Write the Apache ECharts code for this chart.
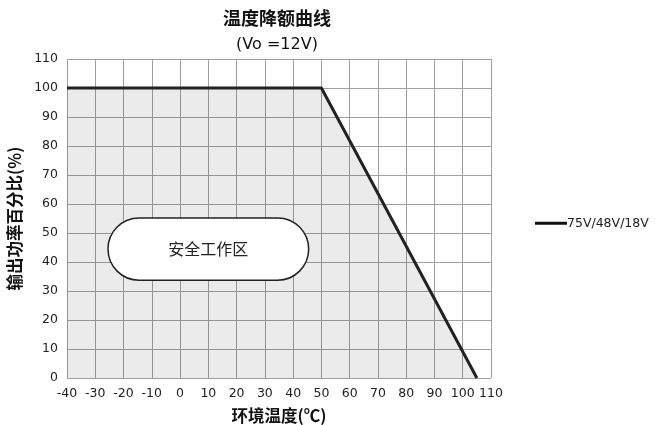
<!DOCTYPE html>
<html>
<head>
<meta charset="utf-8">
<script src="https://cdn.jsdelivr.net/npm/echarts@6/dist/echarts.min.js"></script>
<style>
  html, body { margin: 0; padding: 0; background: #fff; }
  #chart { width: 656px; height: 425px; }
</style>
</head>
<body>
<div id="chart"></div>
<script>
// Derating curve: output power percentage vs ambient temperature
const temperatures = [-40, 50, 105];
const powerPercent = [100, 100, 0];
const xTicks = [-40, -30, -20, -10, 0, 10, 20, 30, 40, 50, 60, 70, 80, 90, 100, 110];
const yTicks = [0, 10, 20, 30, 40, 50, 60, 70, 80, 90, 100, 110];
const seriesName = '75V/48V/18V';
const zoneLabel = '安全工作区';
// Safe operating zone label box, in data units (temperature, percent)
const zoneBox = { x0: -25.5, x1: 45.5, y0: 33.7, y1: 55.2 };

const FONT = '"Noto Sans CJK SC", "DejaVu Sans", sans-serif';
const NUMFONT = '"DejaVu Sans", "Noto Sans CJK SC", sans-serif';

const chart = echarts.init(document.getElementById('chart'), null, { renderer: 'canvas' });

const option = {
  backgroundColor: '#fff',
  animation: false,
  title: {
    text: '温度降额曲线',
    subtext: '(Vo =12V)',
    left: 272,
    textAlign: 'center',
    top: 4,
    itemGap: 10,
    textStyle: { fontFamily: FONT, fontSize: 18, fontWeight: 'bold', color: '#111' },
    subtextStyle: { fontFamily: NUMFONT, fontSize: 16, color: '#111' }
  },
  legend: {
    left: 530,
    top: 212,
    itemWidth: 32,
    itemHeight: 3,
    itemGap: 0,
    icon: 'rect',
    textStyle: { fontFamily: NUMFONT, fontSize: 12.5, color: '#222', padding: [0, 0, 0, -5] },
    data: [{ name: seriesName, icon: 'rect' }]
  },
  grid: { left: 67, right: 165, top: 59, bottom: 47, containLabel: false, outerBoundsMode: 'none' },
  xAxis: {
    type: 'value',
    min: xTicks[0],
    max: xTicks[xTicks.length - 1],
    interval: 10,
    name: '环境温度(℃)',
    nameLocation: 'middle',
    nameGap: 29,
    nameTextStyle: { fontFamily: FONT, fontSize: 16.5, fontWeight: 'bold', color: '#111' },
    axisLine: { show: false },
    axisTick: { show: false },
    axisLabel: { fontFamily: NUMFONT, fontSize: 12.5, color: '#222', margin: 9 },
    splitLine: { show: true, lineStyle: { color: '#a0a0a0', width: 1 } }
  },
  yAxis: {
    type: 'value',
    min: yTicks[0],
    max: yTicks[yTicks.length - 1],
    interval: 10,
    name: '输出功率百分比(%)',
    nameLocation: 'middle',
    nameGap: 38,
    nameTextStyle: { fontFamily: FONT, fontSize: 16.5, fontWeight: 'bold', color: '#111' },
    axisLine: { show: false },
    axisTick: { show: false },
    axisLabel: { fontFamily: NUMFONT, fontSize: 12.5, color: '#222', margin: 9 },
    splitLine: { show: true, lineStyle: { color: '#a0a0a0', width: 1 } }
  },
  series: [
    {
      name: seriesName,
      type: 'line',
      data: temperatures.map((t, i) => [t, powerPercent[i]]),
      symbol: 'none',
      lineStyle: { color: '#222', width: 3 },
      itemStyle: { color: '#111' },
      areaStyle: { color: 'rgba(0,0,0,0.11)', origin: 'start' },
      z: 3
    }
  ]
};

chart.setOption(option);

// Rounded label box for the safe operating zone, placed via the axis scales
function drawZoneLabel() {
  const p0 = chart.convertToPixel({ gridIndex: 0 }, [zoneBox.x0, zoneBox.y1]);
  const p1 = chart.convertToPixel({ gridIndex: 0 }, [zoneBox.x1, zoneBox.y0]);
  const w = p1[0] - p0[0];
  const h = p1[1] - p0[1];
  chart.setOption({
    graphic: [
      {
        type: 'rect',
        shape: { x: p0[0], y: p0[1], width: w, height: h, r: h / 2 },
        style: { fill: '#fff', stroke: '#222', lineWidth: 1.5 },
        z: 10
      },
      {
        type: 'text',
        x: p0[0] + w / 2,
        y: p0[1] + h / 2,
        style: {
          text: zoneLabel,
          fontFamily: FONT,
          fontSize: 16,
          fill: '#222',
          align: 'center',
          verticalAlign: 'middle'
        },
        z: 11
      }
    ]
  });
}
drawZoneLabel();
</script>
</body>
</html>
